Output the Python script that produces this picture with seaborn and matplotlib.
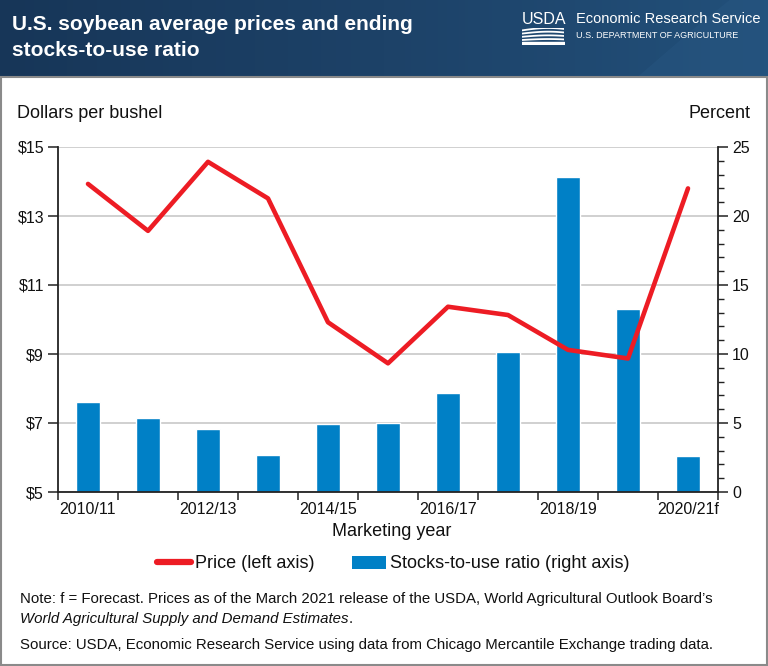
import numpy as np
import pandas as pd
import matplotlib
matplotlib.use('Agg')
import matplotlib.pyplot as plt
import seaborn as sns
from matplotlib.lines import Line2D
from matplotlib.patches import Patch, Rectangle, Polygon
from matplotlib.colors import LinearSegmentedColormap

# ---- data ----
years = ['2010/11', '2011/12', '2012/13', '2013/14', '2014/15', '2015/16',
         '2016/17', '2017/18', '2018/19', '2019/20', '2020/21f']
price = [13.93, 12.57, 14.57, 13.51, 9.92, 8.73, 10.37, 10.13, 9.12, 8.87, 13.80]
stocks_to_use = [6.54, 5.34, 4.54, 2.68, 4.95, 5.00, 7.15, 10.17, 22.80, 13.24, 2.59]
price_ticks = [5, 7, 9, 11, 13, 15]
price_labels = ['$5', '$7', '$9', '$11', '$13', '$15']
pct_ticks = [0, 5, 10, 15, 20, 25]

RED = '#ed1c24'
BLUE = '#0080c6'

sns.set_theme(style='white')
plt.rcParams['font.family'] = ['Liberation Sans', 'DejaVu Sans']

W, H = 768, 666
fig = plt.figure(figsize=(W / 100, H / 100), dpi=100)
fig.patch.set_facecolor('white')

# ---- header ----
hh = 77
axh = fig.add_axes([0, 1 - hh / H, 1, hh / H])
grad = np.linspace(0, 1, 256)[None, :]
cmap = LinearSegmentedColormap.from_list('hdr', ['#173658', '#1d4268', '#22507a'])
axh.imshow(grad, aspect='auto', cmap=cmap, extent=[0, 1, 0, 1])
axh.add_patch(Polygon([[0.83, 0], [1, 0], [1, 1], [0.95, 1], [0.9, 0.6]], closed=True,
                      facecolor='#2a5a86', alpha=0.35, edgecolor='none'))
axh.set_xlim(0, 1); axh.set_ylim(0, 1)
axh.axis('off')

fig.text(12 / W, 1 - 25 / H, 'U.S. soybean average prices and ending', color='white',
         fontsize=15, fontweight='bold', va='center', ha='left')
fig.text(12 / W, 1 - 50 / H, 'stocks-to-use ratio', color='white',
         fontsize=15, fontweight='bold', va='center', ha='left')
fig.text(522 / W, 1 - 19 / H, 'USDA', color='white', fontsize=11.5, va='center', ha='left')
fig.text(576 / W, 1 - 19 / H, 'Economic Research Service', color='white', fontsize=10.5,
         va='center', ha='left')
fig.text(576 / W, 1 - 36 / H, 'U.S. DEPARTMENT OF AGRICULTURE', color='white', fontsize=6.5,
         va='center', ha='left')
axl = fig.add_axes([522 / W, 1 - 44 / H, 42 / W, 16 / H])
xs = np.linspace(0, 1, 50)
for k in range(4):
    axl.plot(xs, 0.85 - 0.2 * k + 0.15 * np.sin(xs * 2.5) * (1 - 0.2 * k), color='white', lw=1.3)
axl.fill_between(xs, 0, 0.15, color='white')
axl.set_xlim(0, 1); axl.set_ylim(0, 1)
axl.axis('off')

# ---- frame ----
fig.patches.append(Rectangle((0.001, 0.001), 0.998, 1 - hh / H - 0.001, transform=fig.transFigure,
                             fill=False, edgecolor='#8a8a8a', lw=1.5))

# ---- chart ----
df = pd.DataFrame({'year': years, 'pos': np.arange(len(years)),
                   'price': price, 'stocks': stocks_to_use})

ax = fig.add_axes([58 / W, 1 - 492 / H, 660 / W, 345 / H])
ax2 = ax.twinx()

sns.barplot(data=df, x='pos', y='stocks', ax=ax2, color=BLUE, saturation=1,
            width=0.4, native_scale=True, zorder=2)
sns.lineplot(data=df, x='pos', y='price', ax=ax, color=RED, lw=3.3,
             solid_capstyle='round', zorder=3)

ax.set_zorder(ax2.get_zorder() + 1)
ax.patch.set_visible(False)

ax.set_xlim(-0.5, 10.5)
ax.set_ylim(5, 15)
ax2.set_ylim(0, 25)

# grid
ax2.set_axisbelow(True)
ax2.set_yticks(pct_ticks)
ax2.set_yticks(range(0, 26), minor=True)
ax2.yaxis.grid(True, which='major', color='#c4c4c4', lw=1.1)
ax2.xaxis.grid(False)
ax.grid(False)

# y ticks
ax.set_yticks(price_ticks)
ax.set_yticklabels(price_labels)
ax.tick_params(axis='y', which='major', left=True, length=7, width=1.1, color='#222',
               labelsize=11.5, pad=3, labelcolor='#111')
ax2.set_yticklabels([str(t) for t in pct_ticks])
ax2.tick_params(axis='y', which='major', right=True, length=7, width=1.1, color='#222',
                labelsize=11.5, pad=3, labelcolor='#111')
ax2.tick_params(axis='y', which='minor', right=True, length=4, width=1.0, color='#222')

# x ticks
ax.set_xticks(np.arange(0, 11, 2))
ax.set_xticklabels(years[::2])
ax.set_xticks(np.arange(-0.5, 11, 1), minor=True)
ax.tick_params(axis='x', which='major', bottom=True, length=0, labelsize=11.5, pad=7,
               labelcolor='#111')
ax.tick_params(axis='x', which='minor', bottom=True, length=6, width=1.1, color='#222')
ax2.tick_params(axis='x', which='both', bottom=False, top=False, labelbottom=False)

ax.set_xlabel('')
ax.set_ylabel('')
ax2.set_xlabel('')
ax2.set_ylabel('')

for a in (ax, ax2):
    for s in a.spines.values():
        s.set_visible(False)
ax.spines['left'].set_visible(True)
ax.spines['bottom'].set_visible(True)
ax2.spines['right'].set_visible(True)
for s in (ax.spines['left'], ax.spines['bottom'], ax2.spines['right']):
    s.set_color('#222')
    s.set_linewidth(1.3)

# axis titles
fig.text(17 / W, 1 - 113 / H, 'Dollars per bushel', fontsize=13, va='center', ha='left', color='#111')
fig.text(751 / W, 1 - 113 / H, 'Percent', fontsize=13, va='center', ha='right', color='#111')
fig.text(392 / W, 1 - 532 / H, 'Marketing year', fontsize=13, va='center', ha='center', color='#111')

# legend
handles = [Line2D([0], [0], color=RED, lw=4.5, solid_capstyle='round'),
           Patch(facecolor=BLUE, edgecolor='none')]
fig.legend(handles, ['Price (left axis)', 'Stocks-to-use ratio (right axis)'],
           loc='center', bbox_to_anchor=(393 / W, 1 - 564 / H), ncol=2, frameon=False,
           fontsize=13, handlelength=1.9, handletextpad=0.2, columnspacing=2.1,
           labelcolor='#111')

# notes
fs = 10.8
fig.text(20 / W, 1 - 599 / H,
         'Note: f = Forecast. Prices as of the March 2021 release of the USDA, World Agricultural Outlook Board\u2019s',
         fontsize=fs, va='center', ha='left', color='#111')
t = fig.text(20 / W, 1 - 619 / H, 'World Agricultural Supply and Demand Estimates',
             fontsize=fs, style='italic', va='center', ha='left', color='#111')
fig.canvas.draw()
bb = t.get_window_extent()
fig.text(bb.x1 / fig.bbox.width, 1 - 619 / H, '.', fontsize=fs, va='center', ha='left', color='#111')
fig.text(20 / W, 1 - 645 / H,
         'Source: USDA, Economic Research Service using data from Chicago Mercantile Exchange trading data.',
         fontsize=fs, va='center', ha='left', color='#111')

fig.savefig('out.png', dpi=100, facecolor='white')
